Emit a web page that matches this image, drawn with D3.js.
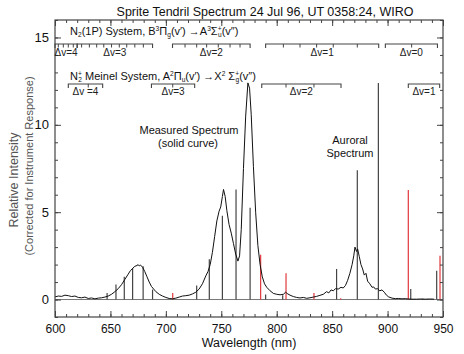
<!DOCTYPE html>
<html>
<head>
<meta charset="utf-8">
<script src="https://cdn.jsdelivr.net/npm/d3@7"></script>
<style>
  body { margin: 0; background: #fff; }
  text { font-family: "Liberation Sans", Arial, sans-serif; }
</style>
</head>
<body>
<div id="chart"></div>
<script>
// measured spectrum (solid curve), wavelength nm / relative intensity
const curveWl = [600,603,606,609,612,615,618,621,624,627,630,633,636,639,642,645,648,651,654,657,660,663,666,668,670,672,674,675,676,677,679,681,683,685,687,689,691,694,697,700,703,706,709,712,715,718,721,724,727,730,733,736,738,740,742,744,746,748,749.5,751,752,753.5,755,757,759,761,763,765,766.5,768,770,772,774,775.5,777,779,781,783,785,787,789,791,794,797,800,803,806,808,810,812,815,818,821,824,827,830,833,836,839,842,845,847,849,851,853,855.5,858,860,862,864,866,868,869.5,870.6,872,873,874.5,876,877.5,879,880.5,882,884,886,887.5,889,891,893,895,897,899,901,904,907,910,913,916,919,922,926,930,934,938,942];
const curveI = [0.15,0.2,0.18,0.25,0.22,0.17,0.2,0.12,0.1,0.14,0.06,0.09,0.04,0.08,0.1,0.14,0.2,0.3,0.45,0.62,0.85,1.15,1.45,1.65,1.78,1.9,1.95,2.0,1.92,1.98,1.85,1.6,1.3,1.0,0.75,0.6,0.45,0.3,0.2,0.12,0.06,0.04,0.08,0.14,0.2,0.22,0.25,0.32,0.42,0.6,0.9,1.35,1.6,2.0,2.7,3.6,4.5,5.05,5.3,5.9,6.3,5.9,5.1,4.3,3.8,3.2,2.6,2.2,2.5,4.0,7.5,10.5,12.4,12.1,10.6,7.6,5.0,3.1,2.0,1.3,0.9,0.7,0.5,0.35,0.3,0.27,0.3,0.42,0.32,0.25,0.17,0.12,0.09,0.12,0.07,0.1,0.14,0.18,0.24,0.3,0.45,0.38,0.55,0.5,0.62,0.6,0.7,0.66,0.8,1.1,1.5,2.0,2.5,3.0,2.75,2.9,2.45,2.0,1.75,1.4,1.5,1.05,0.9,0.7,0.72,0.6,0.62,0.5,0.55,0.42,0.25,0.15,0.08,0.05,0.06,0.04,0.05,0.03,0.02,0.02,0.03,0.02,0.03,0.02];

// auroral stick spectrum
const auroralWl = [647,655,662.5,670,679.5,688,727.8,739.2,751,763.3,776,790,805.4,854,872.7,891.7,920.9,931.7,944.3];
const auroralI  = [0.38,0.86,1.31,1.8,1.9,0.57,0.8,2.3,4.8,6.3,5.25,0.29,0.25,1.75,7.4,12.4,0.6,0.05,1.65];
// red sticks (N2+ Meinel band heads)
const redWl = [706.2,785.5,808.4,833.6,857.7,918.7,947.3];
const redI  = [0.38,2.57,1.5,0.38,0.08,6.27,2.5];

// band brackets: [start, end], inner ticks, label
const n2Bands = [
  { from: 600, to: 620, ticks: [603,607.5,612,616.5], label: "Δv=4" },
  { from: 620, to: 688, ticks: [624,631,637.6,644,651,658,664.7,672,679.7], label: "Δv=3" },
  { from: 706, to: 776, ticks: [717.3,727.8,736.8,747.3,757.9,766.9], label: "Δv=2" },
  { from: 790, to: 892, ticks: [806,821,836,851,872.7], label: "Δv=1" },
  { from: 898, to: 945, ticks: [921.7], label: "Δv=0" }
];
const meinelBands = [
  { from: 612, to: 643, ticks: [630], label: "Δv =4" },
  { from: 687, to: 726, ticks: [706.2], label: "Δv=3" },
  { from: 786.5, to: 858, ticks: [808.4,833.6], label: "Δv=2" },
  { from: 918.7, to: 947, ticks: [], label: "Δv=1" }
];

const xMajor = [600,650,700,750,800,850,900,950];
const yMajor = [0,5,10,15];

const W = 464, H = 354;
const margin = { top: 20, right: 21, bottom: 37, left: 55 };
const w = W - margin.left - margin.right;
const h = H - margin.top - margin.bottom;

const svg = d3.select("#chart").append("svg")
  .attr("width", W).attr("height", H);

const x = d3.scaleLinear().domain([600, 950]).range([0, w]);
const y = d3.scaleLinear().domain([-1, 16]).range([h, 0]);

const g = svg.append("g").attr("transform", `translate(${margin.left},${margin.top})`);

g.append("defs").append("clipPath").attr("id", "clip")
  .append("rect").attr("width", w).attr("height", h);

// zero line
g.append("line")
  .attr("x1", 0).attr("x2", w)
  .attr("y1", y(0)).attr("y2", y(0))
  .attr("stroke", "#777").attr("stroke-width", 1);

// sticks
const plot = g.append("g").attr("clip-path", "url(#clip)");
plot.selectAll(".stick").data(auroralWl.map((d, i) => [d, auroralI[i]]))
  .enter().append("line")
  .attr("x1", d => x(d[0])).attr("x2", d => x(d[0]))
  .attr("y1", y(0)).attr("y2", d => y(d[1]))
  .attr("stroke", "#444").attr("stroke-width", 1.2);
plot.selectAll(".red").data(redWl.map((d, i) => [d, redI[i]]))
  .enter().append("line")
  .attr("x1", d => x(d[0])).attr("x2", d => x(d[0]))
  .attr("y1", y(0)).attr("y2", d => y(d[1]))
  .attr("stroke", "#e0383c").attr("stroke-width", 1.2);

// measured curve
const line = d3.line().x(d => x(d[0])).y(d => y(d[1]));
plot.append("path")
  .datum(curveWl.map((d, i) => [d, curveI[i]]))
  .attr("d", line)
  .attr("fill", "none").attr("stroke", "#111").attr("stroke-width", 1);

// axes, ticks inward on all four sides
function styleAxis(sel) {
  sel.select(".domain").remove();
  sel.selectAll(".tick line").attr("stroke", "#444");
  sel.selectAll("text").attr("fill", "#111");
}
const xMinor = d3.range(600, 951, 10);
const yMinor = d3.range(-1, 17, 1);

g.append("g").attr("transform", `translate(0,${h})`)
  .call(d3.axisBottom(x).tickValues(xMinor).tickSize(-3).tickFormat(""))
  .call(styleAxis);
g.append("g").attr("transform", `translate(0,${h})`)
  .call(d3.axisBottom(x).tickValues(xMajor).tickSize(-6).tickPadding(7).tickFormat(d3.format("d")))
  .call(styleAxis)
  .selectAll("text").attr("font-size", 12);
g.append("g")
  .call(d3.axisTop(x).tickValues(xMinor).tickSize(-3).tickFormat(""))
  .call(styleAxis);
g.append("g")
  .call(d3.axisTop(x).tickValues(xMajor).tickSize(-6).tickFormat(""))
  .call(styleAxis);

g.append("g")
  .call(d3.axisLeft(y).tickValues(yMinor).tickSize(-3).tickFormat(""))
  .call(styleAxis);
g.append("g")
  .call(d3.axisLeft(y).tickValues(yMajor).tickSize(-6).tickPadding(6).tickFormat(d3.format("d")))
  .call(styleAxis)
  .selectAll("text").attr("font-size", 13);
g.append("g").attr("transform", `translate(${w},0)`)
  .call(d3.axisRight(y).tickValues(yMinor).tickSize(-3).tickFormat(""))
  .call(styleAxis);
g.append("g").attr("transform", `translate(${w},0)`)
  .call(d3.axisRight(y).tickValues(yMajor).tickSize(-6).tickFormat(""))
  .call(styleAxis);

g.append("rect").attr("width", w).attr("height", h)
  .attr("fill", "none").attr("stroke", "#444").attr("stroke-width", 1.2);

// band brackets
function drawBrackets(bands, yLine, yLabel) {
  const bg = g.append("g");
  bands.forEach(b => {
    const x0 = x(b.from), x1 = x(b.to);
    bg.append("path")
      .attr("d", `M${x0},${yLine + 4}V${yLine}H${x1}V${yLine + 4}`)
      .attr("fill", "none").attr("stroke", "#444").attr("stroke-width", 1.1);
    bg.selectAll(null).data(b.ticks).enter().append("line")
      .attr("x1", d => x(d)).attr("x2", d => x(d))
      .attr("y1", yLine).attr("y2", yLine + 3.5)
      .attr("stroke", "#444").attr("stroke-width", 1);
    bg.append("text")
      .attr("x", (x0 + x1) / 2).attr("y", yLabel)
      .attr("text-anchor", "middle").attr("font-size", 10).attr("fill", "#222")
      .text(b.label);
  });
}
drawBrackets(n2Bands, 44 - margin.top, 56 - margin.top);
drawBrackets(meinelBands, 84 - margin.top, 95 - margin.top);

// headers with sub/superscripts
function rich(xp, yp, parts, size) {
  const t = svg.append("text").attr("x", xp).attr("y", yp)
    .attr("font-size", size).attr("fill", "#111");
  parts.forEach(([s, type, dx]) => {
    const sp = t.append("tspan").text(s);
    if (type === "sub") sp.attr("font-size", size * 0.6).attr("baseline-shift", "-25%");
    if (type === "sup") sp.attr("font-size", size * 0.6).attr("baseline-shift", "55%");
    if (dx) sp.attr("dx", dx);
  });
}
rich(70, 35, [["N"], ["2", "sub"], ["(1P) System, B"], ["3", "sup"], ["Π"], ["g", "sub"],
  ["(v′) →A"], ["3", "sup"], ["Σ"], ["+", "sup"], ["u", "sub", -3.5], ["(v″)"]], 11);
rich(70, 80, [["N"], ["+", "sup"], ["2", "sub", -3.5], [" Meinel System, A"], ["2", "sup"], ["Π"], ["u", "sub"],
  ["(v′) →X"], ["2", "sup"], [" Σ"], ["+", "sup"], ["g", "sub", -3.5], ["(v″)"]], 11);

// title
svg.append("text").attr("x", 265).attr("y", 16)
  .attr("text-anchor", "middle").attr("font-size", 12.5).attr("fill", "#111")
  .text("Sprite Tendril Spectrum 24 Jul 96, UT 0358:24, WIRO");

// axis labels
svg.append("text").attr("x", margin.left + w / 2).attr("y", 347)
  .attr("text-anchor", "middle").attr("font-size", 12.5).attr("fill", "#111")
  .text("Wavelength (nm)");
svg.append("text").attr("transform", "translate(18,180) rotate(-90)")
  .attr("text-anchor", "middle").attr("font-size", 12.5).attr("fill", "#555")
  .text("Relative Intensity");
svg.append("text").attr("transform", "translate(33,166) rotate(-90)")
  .attr("text-anchor", "middle").attr("font-size", 11).attr("fill", "#555")
  .text("(Corrected for Instrument Response)");

// annotations
const ann = [
  { t: "Measured Spectrum", xp: 189, yp: 134 },
  { t: "(solid curve)", xp: 188, yp: 147 },
  { t: "Auroral", xp: 350, yp: 144 },
  { t: "Spectrum", xp: 350, yp: 157 }
];
svg.selectAll(".ann").data(ann).enter().append("text")
  .attr("x", d => d.xp).attr("y", d => d.yp)
  .attr("text-anchor", "middle").attr("font-size", 11).attr("fill", "#111")
  .attr("font-weight", 500)
  .text(d => d.t);
</script>
</body>
</html>
